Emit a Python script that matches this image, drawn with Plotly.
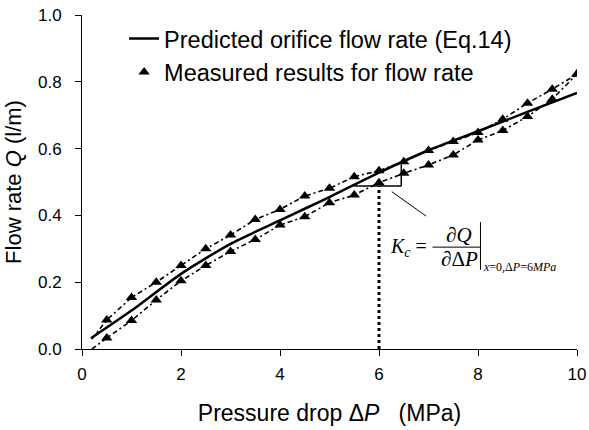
import plotly.graph_objects as go

# ---- data ----
pred_x = [0.18, 1, 2, 3, 4, 5, 6, 7, 8, 9, 10]
pred_q = [0.032, 0.115, 0.225, 0.315, 0.385, 0.455, 0.528, 0.595, 0.652, 0.71, 0.767]

meas_x = [0.2, 0.5, 1, 1.5, 2, 2.5, 3, 3.5, 4, 4.5, 5, 5.5, 6, 6.5, 7, 7.5, 8, 8.5, 9, 9.5, 10]
meas_upper = [0.03, 0.087, 0.154, 0.200, 0.250, 0.300, 0.341, 0.388, 0.418, 0.458, 0.481,
              0.516, 0.534, 0.561, 0.594, 0.621, 0.648, 0.688, 0.736, 0.778, 0.823]
meas_lower = [0.0, 0.033, 0.085, 0.147, 0.204, 0.250, 0.292, 0.328, 0.371, 0.396, 0.438,
              0.461, 0.498, 0.526, 0.551, 0.581, 0.626, 0.654, 0.696, 0.748, 0.823]

x_ticks = [0, 2, 4, 6, 8, 10]
y_ticks = [0.0, 0.2, 0.4, 0.6, 0.8, 1.0]
y_ticklabels = ["0.0", "0.2", "0.4", "0.6", "0.8", "1.0"]

# annotation geometry (data units)
kc_x = 6.0
kc_y = 0.488
kc_left = 5.5
kc_right = 6.45
kc_top = 0.553

SANS = "Liberation Sans, Arial, sans-serif"
SERIF = "Liberation Serif, Times New Roman, serif"

fig = go.Figure()

dash_style = "5px,3px,2px,3px"
for ys in (meas_upper, meas_lower):
    fig.add_trace(go.Scatter(x=meas_x, y=ys, mode="lines",
                             line=dict(color="black", width=1.6, dash=dash_style),
                             showlegend=False, hoverinfo="skip"))

fig.add_trace(go.Scatter(x=pred_x, y=pred_q, mode="lines",
                         line=dict(color="black", width=2.5, shape="spline", smoothing=0.6),
                         name="Predicted orifice flow rate (Eq.14)"))

fig.add_trace(go.Scatter(x=meas_x[1:], y=meas_upper[1:], mode="markers",
                         marker=dict(symbol="triangle-up", size=10, color="black"),
                         name="Measured results for flow rate", legendgroup="m"))
fig.add_trace(go.Scatter(x=meas_x[1:], y=meas_lower[1:], mode="markers",
                         marker=dict(symbol="triangle-up", size=10, color="black"),
                         showlegend=False, legendgroup="m"))

# slope triangle and dotted guide
fig.add_shape(type="line", x0=kc_left, x1=kc_right, y0=kc_y, y1=kc_y,
              line=dict(color="black", width=1.5))
fig.add_shape(type="line", x0=kc_right, x1=kc_right, y0=kc_y, y1=kc_top,
              line=dict(color="black", width=1.5))
fig.add_shape(type="line", x0=kc_x, x1=kc_x, y0=0, y1=kc_y,
              line=dict(color="black", width=3, dash="dot"))
# leader
fig.add_shape(type="line", x0=6.26, x1=6.95, y0=0.471, y1=0.398,
              line=dict(color="black", width=1))

# equation pieces
fig.add_annotation(x=7.02, y=0.305, xref="x", yref="y", showarrow=False,
                   text="<i>K</i><sub><i>c</i></sub> =", font=dict(family=SERIF, size=20, color="black"),
                   xanchor="right")
fig.add_annotation(x=7.62, y=0.342, xref="x", yref="y", showarrow=False,
                   text="∂<i>Q</i>", font=dict(family=SERIF, size=21, color="black"))
fig.add_annotation(x=7.62, y=0.268, xref="x", yref="y", showarrow=False,
                   text="∂Δ<i>P</i>", font=dict(family=SERIF, size=21, color="black"))
fig.add_shape(type="line", x0=7.08, x1=8.05, y0=0.305, y1=0.305,
              line=dict(color="black", width=1))
fig.add_shape(type="line", x0=8.05, x1=8.05, y0=0.237, y1=0.38,
              line=dict(color="black", width=1))
fig.add_annotation(x=8.06, y=0.245, xref="x", yref="y", showarrow=False, xanchor="left",
                   text="<i>x</i>=0,Δ<i>P</i>=6<i>MPa</i>",
                   font=dict(family=SERIF, size=12, color="black"))

fig.update_layout(
    width=589, height=430,
    margin=dict(l=82, r=12, t=15, b=81, autoexpand=False),
    paper_bgcolor="white", plot_bgcolor="white",
    font=dict(family=SANS, size=17, color="black"),
    showlegend=True,
    legend=dict(x=0.085, y=0.995, xanchor="left", yanchor="top",
                bgcolor="rgba(0,0,0,0)", font=dict(family=SANS, size=23.5),
                itemwidth=30, tracegroupgap=0),
    xaxis=dict(range=[0, 10], tickvals=x_ticks, showline=True, linecolor="black", linewidth=1,
               ticks="outside", ticklen=6, tickcolor="black", showgrid=False, zeroline=False,
               tickfont=dict(size=17), automargin=False, ticklabelstandoff=4,
               title=dict(text="Pressure drop Δ<i>P</i>\u00a0\u00a0\u00a0(MPa)", font=dict(size=23),
                          standoff=21)),
    yaxis=dict(range=[0, 1.0], tickvals=y_ticks, ticktext=y_ticklabels, showline=True,
               linecolor="black", linewidth=1, ticks="outside", ticklen=6, tickcolor="black",
               showgrid=False, zeroline=False, tickfont=dict(size=17), automargin=False,
               ticklabelstandoff=10,
               title=dict(text="Flow rate <i>Q</i> (l/m)", font=dict(size=22), standoff=10)),
)

fig.write_html("out.html", config={"displayModeBar": False},
               post_script="document.body.style.margin='0';document.body.style.overflow='hidden';")
